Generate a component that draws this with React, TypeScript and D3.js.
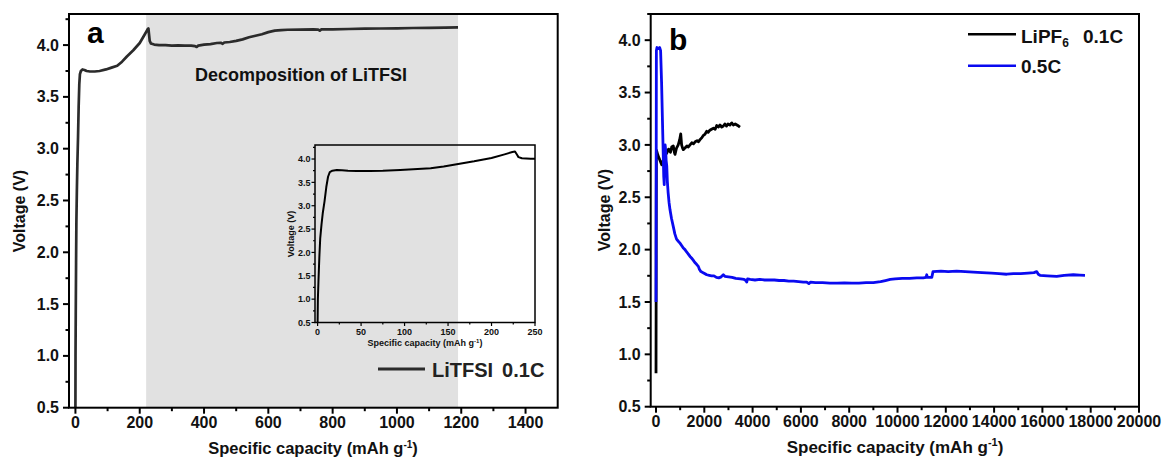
import React from "react";
import * as d3 from "d3";

// ---------- data ----------
// Panel a: LiTFSI 0.1C, [specific capacity (mAh/g), voltage (V)]
const litfsiCurve: [number, number][] = [
  [0, 0.5], [0.3, 1.0], [1, 1.4], [2, 1.9], [3, 2.3], [4.5, 2.6], [6, 2.85], [8, 3.1], [10, 3.4],
  [12, 3.62], [14, 3.72], [17, 3.75], [22, 3.765], [28, 3.76], [35, 3.75], [45, 3.745], [60, 3.745],
  [75, 3.75], [95, 3.765], [110, 3.78], [130, 3.8], [145, 3.84], [160, 3.89], [180, 3.95], [200, 4.02],
  [215, 4.1], [224, 4.15], [227, 4.16], [229, 4.1], [231, 4.04], [235, 4.015], [245, 4.005], [260, 4.0],
  [280, 4.0], [300, 3.995], [320, 3.997], [340, 3.995], [360, 3.995], [372, 3.99], [377, 3.982],
  [382, 3.995], [400, 4.005], [420, 4.01], [440, 4.02], [452, 4.022], [458, 4.012], [463, 4.025],
  [480, 4.03], [500, 4.04], [520, 4.055], [540, 4.075], [560, 4.09], [580, 4.105], [600, 4.125],
  [620, 4.14], [640, 4.145], [660, 4.148], [700, 4.15], [740, 4.152], [755, 4.15], [760, 4.14],
  [765, 4.152], [800, 4.152], [850, 4.155], [900, 4.158], [950, 4.16], [1000, 4.162], [1050, 4.165],
  [1100, 4.166], [1150, 4.168], [1190, 4.17],
];
const decompositionRange: [number, number] = [220, 1190];

// Panel b: LiPF6 0.1C and 0.5C
const lipf6Curve: [number, number][] = [
  [0, 0.82], [5, 1.5], [10, 2.5], [15, 2.95], [29, 2.94], [80, 2.9], [150, 2.86], [236, 2.81], [300, 2.85],
  [360, 2.9], [443, 2.92], [520, 2.96], [600, 2.93], [650, 2.98], [716, 2.99], [760, 2.93], [787, 2.91],
  [850, 2.97], [920, 3.0], [980, 3.05], [1023, 3.105], [1060, 3.0], [1100, 2.97], [1130, 2.955],
  [1200, 2.97], [1280, 2.99], [1340, 2.98], [1408, 3.0], [1480, 3.02], [1550, 3.01], [1620, 3.03],
  [1700, 3.04], [1760, 3.03], [1822, 3.05], [1900, 3.07], [1960, 3.09], [2020, 3.1], [2099, 3.13],
  [2160, 3.12], [2230, 3.14], [2300, 3.15], [2380, 3.16], [2450, 3.15], [2513, 3.185], [2580, 3.17],
  [2650, 3.19], [2720, 3.17], [2787, 3.18], [2850, 3.2], [2920, 3.18], [2980, 3.2], [3060, 3.19],
  [3135, 3.21], [3200, 3.19], [3280, 3.2], [3350, 3.19], [3420, 3.18], [3478, 3.17],
];
const rate05Curve: [number, number][] = [
  [0, 1.5], [8, 2.8], [15, 3.9], [40, 3.93], [90, 3.92], [150, 3.93], [190, 3.9], [230, 3.6], [280, 3.1],
  [320, 2.7], [340, 2.62], [360, 2.85], [378, 3.0], [400, 2.95], [420, 2.85], [445, 2.8], [470, 2.65],
  [500, 2.55], [540, 2.45], [580, 2.38], [640, 2.3], [716, 2.22], [780, 2.15], [850, 2.1], [923, 2.08],
  [1000, 2.06], [1060, 2.04], [1130, 2.015], [1200, 2.0], [1260, 1.98], [1330, 1.96], [1408, 1.935],
  [1470, 1.92], [1540, 1.9], [1600, 1.88], [1680, 1.86], [1752, 1.84], [1800, 1.81], [1860, 1.79],
  [1950, 1.78], [2030, 1.77], [2099, 1.76], [2200, 1.755], [2300, 1.75], [2400, 1.75], [2500, 1.735],
  [2600, 1.73], [2700, 1.74], [2787, 1.76], [2850, 1.745], [3000, 1.74], [3150, 1.735], [3300, 1.725],
  [3500, 1.72], [3650, 1.715], [3720, 1.705], [3756, 1.69], [3790, 1.72], [3900, 1.715], [4100, 1.71],
  [4300, 1.715], [4500, 1.71], [4700, 1.712], [4900, 1.71], [5100, 1.705], [5300, 1.705], [5500, 1.7],
  [5700, 1.7], [5900, 1.695], [6100, 1.69], [6240, 1.69], [6330, 1.675], [6400, 1.69], [6600, 1.685],
  [6900, 1.685], [7200, 1.68], [7500, 1.68], [7800, 1.682], [8100, 1.68], [8400, 1.68], [8700, 1.685],
  [9000, 1.685], [9300, 1.695], [9500, 1.705], [9700, 1.715], [9900, 1.72], [10200, 1.725],
  [10500, 1.725], [10800, 1.73], [11068, 1.73], [11180, 1.735], [11210, 1.76], [11240, 1.735],
  [11420, 1.735], [11470, 1.79], [11800, 1.795], [12100, 1.79], [12451, 1.795], [12800, 1.79],
  [13139, 1.785], [13500, 1.78], [13900, 1.775], [14200, 1.77], [14521, 1.765], [14800, 1.77],
  [15100, 1.77], [15400, 1.775], [15650, 1.78], [15763, 1.79], [15830, 1.765], [15901, 1.755],
  [16200, 1.75], [16592, 1.745], [16900, 1.755], [17280, 1.76], [17550, 1.757], [17764, 1.755],
];

const voltTicks = [0.5, 1.0, 1.5, 2.0, 2.5, 3.0, 3.5, 4.0];
const voltMinor = [0.75, 1.25, 1.75, 2.25, 2.75, 3.25, 3.75, 4.25];
const capTicksA = [0, 200, 400, 600, 800, 1000, 1200, 1400];
const capMinorA = [100, 300, 500, 700, 900, 1100, 1300];
const capTicksB = [0, 2000, 4000, 6000, 8000, 10000, 12000, 14000, 16000, 18000, 20000];
const capMinorB = [1000, 3000, 5000, 7000, 9000, 11000, 13000, 15000, 17000, 19000];
const capTicksInset = [0, 50, 100, 150, 200, 250];
const capMinorInset = [25, 75, 125, 175, 225];

const FONT = "'Liberation Sans', Arial, Helvetica, sans-serif";

export default function App() {
  // scales
  const xA = d3.scaleLinear().domain([-20, 1500]).range([69, 557.7]);
  const yA = d3.scaleLinear().domain([0.5, 4.3]).range([407.7, 14]);
  const xI = d3.scaleLinear().domain([-3, 250]).range([315, 535]);
  const yI = d3.scaleLinear().domain([0.5, 4.3]).range([322.5, 145]);
  const xB = d3.scaleLinear().domain([-220, 20000]).range([650.7, 1139]);
  const yB = d3.scaleLinear().domain([0.5, 4.25]).range([406.7, 14]);

  const lineGen = (xs: d3.ScaleLinear<number, number>, ys: d3.ScaleLinear<number, number>) =>
    d3.line<[number, number]>().x((d) => xs(d[0])).y((d) => ys(d[1]));

  const fmt1 = d3.format(".1f");

  const axes = (
    xs: d3.ScaleLinear<number, number>,
    ys: d3.ScaleLinear<number, number>,
    xt: number[],
    xm: number[],
    yt: number[],
    ym: number[],
    opts: { major: number; minor: number; fs: number; xLabDy: number; yLabDx: number; sw: number }
  ) => {
    const [x0] = xs.range();
    const [y0] = ys.range();
    return (
      <g>
        {yt.map((v) => (
          <g key={"yt" + v}>
            <line x1={x0 - opts.major} x2={x0} y1={ys(v)} y2={ys(v)} stroke="#000" strokeWidth={opts.sw} />
            <text x={x0 - opts.major - opts.yLabDx} y={ys(v)} dy="0.35em" textAnchor="end" fontSize={opts.fs} fontWeight="bold" fontFamily={FONT} fill="#111">
              {fmt1(v)}
            </text>
          </g>
        ))}
        {ym.map((v) => (
          <line key={"ym" + v} x1={x0 - opts.minor} x2={x0} y1={ys(v)} y2={ys(v)} stroke="#000" strokeWidth={opts.sw} />
        ))}
        {xt.map((v) => (
          <g key={"xt" + v}>
            <line x1={xs(v)} x2={xs(v)} y1={y0} y2={y0 + opts.major} stroke="#000" strokeWidth={opts.sw} />
            <text x={xs(v)} y={y0 + opts.xLabDy} textAnchor="middle" fontSize={opts.fs} fontWeight="bold" fontFamily={FONT} fill="#111">
              {v}
            </text>
          </g>
        ))}
        {xm.map((v) => (
          <line key={"xm" + v} x1={xs(v)} x2={xs(v)} y1={y0} y2={y0 + opts.minor} stroke="#000" strokeWidth={opts.sw} />
        ))}
      </g>
    );
  };

  const frame = (xs: d3.ScaleLinear<number, number>, ys: d3.ScaleLinear<number, number>, sw: number) => {
    const [xa, xb] = xs.range();
    const [ya, yb] = ys.range();
    return <rect x={xa} y={yb} width={xb - xa} height={ya - yb} fill="none" stroke="#000" strokeWidth={sw} />;
  };

  return (
    <svg width={1165} height={462} style={{ position: "absolute", left: 0, top: 0, display: "block", background: "#fff" }}>
      <defs>
        <clipPath id="clipA">
          <rect x={69} y={14} width={557.7 - 69} height={407.7 - 14} />
        </clipPath>
        <clipPath id="clipI">
          <rect x={315} y={145} width={220} height={177.5} />
        </clipPath>
        <clipPath id="clipB">
          <rect x={650.7} y={14} width={1139 - 650.7} height={406.7 - 14} />
        </clipPath>
      </defs>

      {/* ---------- Panel a ---------- */}
      <rect
        x={xA(decompositionRange[0])}
        y={yA.range()[1]}
        width={xA(decompositionRange[1]) - xA(decompositionRange[0])}
        height={yA.range()[0] - yA.range()[1]}
        fill="#e1e1e1"
      />
      <text x={301} y={81} textAnchor="middle" fontSize={18} fontWeight="bold" fontFamily={FONT} fill="#111">
        Decomposition of LiTFSI
      </text>
      <path d={lineGen(xA, yA)(litfsiCurve) || ""} fill="none" stroke="#2b2b2b" strokeWidth={2.7} strokeLinejoin="round" clipPath="url(#clipA)" />
      {axes(xA, yA, capTicksA, capMinorA, voltTicks, voltMinor, { major: 6, minor: 3.5, fs: 16, xLabDy: 20, yLabDx: 4, sw: 2 })}
      {frame(xA, yA, 2)}
      <text x={87} y={43} fontSize={30} fontWeight="bold" fontFamily={FONT} fill="#000">a</text>
      <text x={24.5} y={211} transform="rotate(-90 24.5 211)" textAnchor="middle" fontSize={16} fontWeight="bold" fontFamily={FONT} fill="#111">
        Voltage (V)
      </text>
      <text x={313} y={454} textAnchor="middle" fontSize={16.5} fontWeight="bold" fontFamily={FONT} fill="#111">
        Specific capacity (mAh g<tspan dy={-6} fontSize={10}>-1</tspan><tspan dy={6}>)</tspan>
      </text>
      {/* legend a */}
      <line x1={378} x2={425} y1={369} y2={369} stroke="#2b2b2b" strokeWidth={3} />
      <text x={432} y={376.5} fontSize={20} fontWeight="bold" fontFamily={FONT} fill="#222">
        LiTFSI<tspan dx={9}>0.1C</tspan>
      </text>

      {/* ---------- Inset ---------- */}
      <path d={lineGen(xI, yI)(litfsiCurve) || ""} fill="none" stroke="#000" strokeWidth={2} strokeLinejoin="round" clipPath="url(#clipI)" />
      {axes(xI, yI, capTicksInset, capMinorInset, voltTicks, voltMinor, { major: 3.5, minor: 2, fs: 9, xLabDy: 12.5, yLabDx: 1, sw: 1.2 })}
      {frame(xI, yI, 1.5)}
      <text x={293.5} y={234} transform="rotate(-90 293.5 234)" textAnchor="middle" fontSize={9} fontWeight="bold" fontFamily={FONT} fill="#111">
        Voltage (V)
      </text>
      <text x={425} y={346} textAnchor="middle" fontSize={9} fontWeight="bold" fontFamily={FONT} fill="#111">
        Specific capacity (mAh g<tspan dy={-3.5} fontSize={6}>-1</tspan><tspan dy={3.5}>)</tspan>
      </text>

      {/* ---------- Panel b ---------- */}
      <g clipPath="url(#clipB)">
        <path d={lineGen(xB, yB)(lipf6Curve) || ""} fill="none" stroke="#000" strokeWidth={2.8} strokeLinejoin="round" />
        <path d={lineGen(xB, yB)(rate05Curve) || ""} fill="none" stroke="#0a0af0" strokeWidth={2.8} strokeLinejoin="round" />
      </g>
      {axes(xB, yB, capTicksB, capMinorB, voltTicks, voltMinor, { major: 6, minor: 3.5, fs: 16, xLabDy: 20, yLabDx: 4, sw: 2 })}
      {frame(xB, yB, 2)}
      <text x={669} y={50} fontSize={30} fontWeight="bold" fontFamily={FONT} fill="#000">b</text>
      <text x={610} y={210} transform="rotate(-90 610 210)" textAnchor="middle" fontSize={16} fontWeight="bold" fontFamily={FONT} fill="#111">
        Voltage (V)
      </text>
      <text x={895} y={453} textAnchor="middle" fontSize={17} fontWeight="bold" fontFamily={FONT} fill="#111">
        Specific capacity (mAh g<tspan dy={-7} fontSize={11}>-1</tspan><tspan dy={7}>)</tspan>
      </text>
      {/* legend b */}
      <line x1={968} x2={1016} y1={34.3} y2={34.3} stroke="#000" strokeWidth={2.5} />
      <text x={1021} y={42.5} fontSize={19} fontWeight="bold" fontFamily={FONT} fill="#111">
        LiPF<tspan dy={4} fontSize={12}>6</tspan>
      </text>
      <text x={1083} y={42.5} fontSize={19} fontWeight="bold" fontFamily={FONT} fill="#111">0.1C</text>
      <line x1={968} x2={1016} y1={65.7} y2={65.7} stroke="#0a0af0" strokeWidth={2.5} />
      <text x={1021} y={72.7} fontSize={19} fontWeight="bold" fontFamily={FONT} fill="#111">0.5C</text>
    </svg>
  );
}
